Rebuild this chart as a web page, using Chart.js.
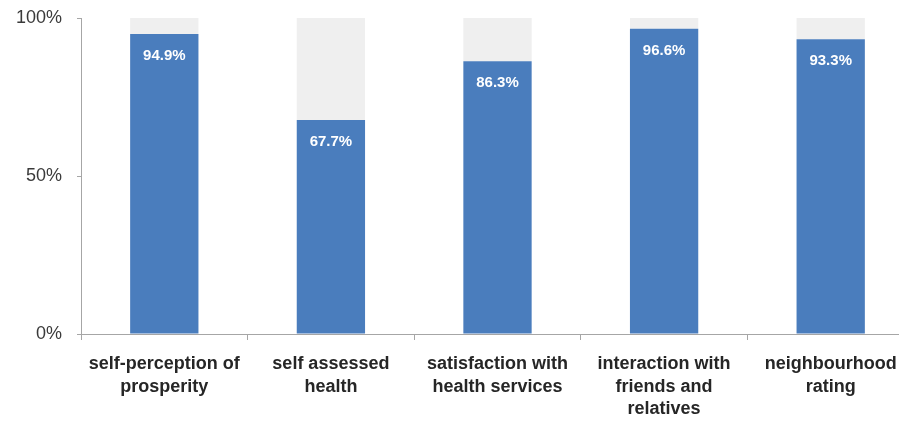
<!DOCTYPE html>
<html>
<head>
<meta charset="utf-8">
<script src="https://cdn.jsdelivr.net/npm/chart.js@4/dist/chart.umd.min.js"></script>
<style>
  html, body { margin: 0; padding: 0; background: #ffffff; overflow: hidden; }
  #wrap { position: relative; width: 920px; height: 423px; }
</style>
</head>
<body>
<div id="wrap"><canvas id="c" width="920" height="423"></canvas></div>
<script>
// Indicators (multi-line category labels)
const categories = [
  ["self-perception of", "prosperity"],
  ["self assessed", "health"],
  ["satisfaction with", "health services"],
  ["interaction with", "friends and", "relatives"],
  ["neighbourhood", "rating"]
];
// Share of positive answers, percent
const positiveShare = [94.9, 67.7, 86.3, 96.6, 93.3];
// Remainder up to 100 %
const remainderShare = [5.1, 32.3, 13.7, 3.4, 6.7];
// Y axis tick values
const yTicks = [0, 50, 100];

const FONT = '"Liberation Sans", Arial, sans-serif';

const valueLabels = {
  id: 'valueLabels',
  afterDatasetsDraw(chart) {
    const ctx = chart.ctx;
    const meta = chart.getDatasetMeta(0);
    ctx.save();
    ctx.fillStyle = '#ffffff';
    ctx.font = 'bold 15px ' + FONT;
    ctx.textAlign = 'center';
    ctx.textBaseline = 'middle';
    meta.data.forEach((bar, i) => {
      ctx.fillText(positiveShare[i].toFixed(1) + '%', bar.x, bar.y + 22);
    });
    ctx.restore();
  }
};

new Chart(document.getElementById('c'), {
  type: 'bar',
  data: {
    labels: categories,
    datasets: [
      { data: positiveShare, backgroundColor: '#4a7dbd', borderWidth: 0 },
      { data: remainderShare, backgroundColor: '#efefef', borderWidth: 0 }
    ]
  },
  options: {
    responsive: false,
    animation: false,
    layout: { padding: { top: 18, right: 6, left: 0, bottom: 0 } },
    plugins: { legend: { display: false }, tooltip: { enabled: false } },
    datasets: { bar: { barPercentage: 1, categoryPercentage: 0.41 } },
    scales: {
      x: {
        stacked: true,
        offset: true,
        grid: { drawOnChartArea: false, offset: true, color: '#a6a6a6', tickLength: 6 },
        border: { color: '#a6a6a6', width: 1 },
        ticks: {
          color: '#262626',
          font: { family: FONT, size: 18, weight: 'bold', lineHeight: 1.25 },
          padding: 13,
          maxRotation: 0,
          autoSkip: false
        },
        afterFit(scale) { scale.height = 89; }
      },
      y: {
        stacked: true,
        min: 0,
        max: 100,
        afterBuildTicks(scale) { scale.ticks = yTicks.map(v => ({ value: v })); },
        grid: { drawOnChartArea: false, color: '#a6a6a6', tickLength: 4 },
        border: { color: '#a6a6a6', width: 1 },
        ticks: {
          color: '#3a3a3a',
          font: { family: FONT, size: 18 },
          padding: 15,
          callback: v => v + '%'
        },
        afterFit(scale) {
          scale.width = 81;
          scale.paddingTop = 0;
          scale.paddingBottom = 0;
        }
      }
    }
  },
  plugins: [valueLabels]
});
</script>
</body>
</html>
